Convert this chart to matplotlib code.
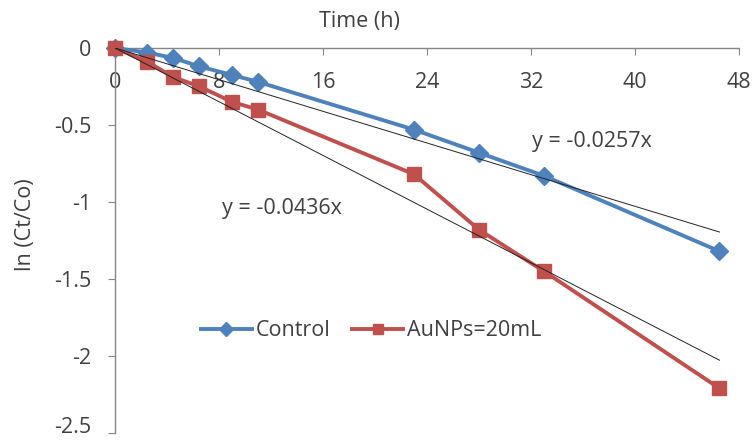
import matplotlib
matplotlib.use("Agg")
import matplotlib.pyplot as plt
import numpy as np

plt.rcParams['font.family'] = ['Open Sans', 'DejaVu Sans']

# Sampling times (h) and ln(Ct/Co) values
time_h = [0, 2.5, 4.5, 6.5, 9, 11, 23, 28, 33, 46.5]
control = [0, -0.03, -0.065, -0.12, -0.175, -0.22, -0.53, -0.68, -0.83, -1.32]
aunps = [0, -0.09, -0.19, -0.25, -0.35, -0.40, -0.82, -1.18, -1.45, -2.21]

# Fitted first-order slopes (through origin)
slope_control = -0.0257
slope_aunps = -0.0436

x_ticks = [0, 8, 16, 24, 32, 40, 48]
y_ticks = [0, -0.5, -1, -1.5, -2, -2.5]
y_tick_labels = ["0", "-0.5", "-1", "-1.5", "-2", "-2.5"]

blue = "#4F81BD"
red = "#C0504D"
axis_grey = "#868686"
text_col = "#404040"
fs = 15.5

fig = plt.figure(figsize=(7.53, 4.44), dpi=100)
ax = fig.add_axes([0.1527, 0.0248, 0.8287, 0.8671])

t = np.array(time_h)
ax.plot(t, control, color=blue, lw=2.8, marker='D', ms=9,
        markeredgecolor=blue, label="Control", clip_on=False, zorder=3)
ax.plot(t, aunps, color=red, lw=2.8, marker='s', ms=10.5,
        markeredgecolor=red, label="AuNPs=20mL", clip_on=False, zorder=4)

t_end = max(time_h)
tx = np.array([0, t_end])
ax.plot(tx, slope_control * tx, color="#222222", lw=0.7, zorder=5)
ax.plot(tx, slope_aunps * tx, color="#222222", lw=0.7, zorder=5)

ax.text(32.1, -0.61, "y = -0.0257x", fontsize=fs, color=text_col, va='center')
ax.text(8.2, -1.04, "y = -0.0436x", fontsize=fs, color=text_col, va='center')

ax.set_xlim(0, 48)
ax.set_ylim(-2.5, 0)
ax.set_xticks(x_ticks)
ax.set_yticks(y_ticks)
ax.set_yticklabels(y_tick_labels)

# horizontal axis runs along y = 0 at the top of the plot area
ax.spines['bottom'].set_position(('data', 0))
ax.spines['top'].set_visible(False)
ax.spines['right'].set_visible(False)
for s in ('bottom', 'left'):
    ax.spines[s].set_color(axis_grey)
    ax.spines[s].set_linewidth(1.0)

ax.tick_params(axis='x', direction='out', length=5, color=axis_grey,
               labelsize=fs, labelcolor=text_col, pad=12)
ax.tick_params(axis='y', direction='out', length=5, color=axis_grey,
               labelsize=fs, labelcolor=text_col, pad=12)

# keep the lowest tick label inside the figure edge
ax.get_yticklabels()[-1].set_va('baseline')

fig.text(359 / 753, 1 - 22 / 444, "Time (h)", fontsize=fs, color=text_col,
         ha='center', va='center')
fig.text(25 / 753, 1 - 225 / 444, "ln (Ct/Co)", fontsize=fs, color=text_col,
         ha='center', va='center', rotation=90)

leg = ax.legend(loc='center', bbox_to_anchor=(0.41, 0.265), ncol=2,
                frameon=False, fontsize=fs, handlelength=2.4,
                columnspacing=1.0, handletextpad=0.15, markerscale=0.75)
for txt in leg.get_texts():
    txt.set_color(text_col)

fig.savefig("out.png", dpi=100)
